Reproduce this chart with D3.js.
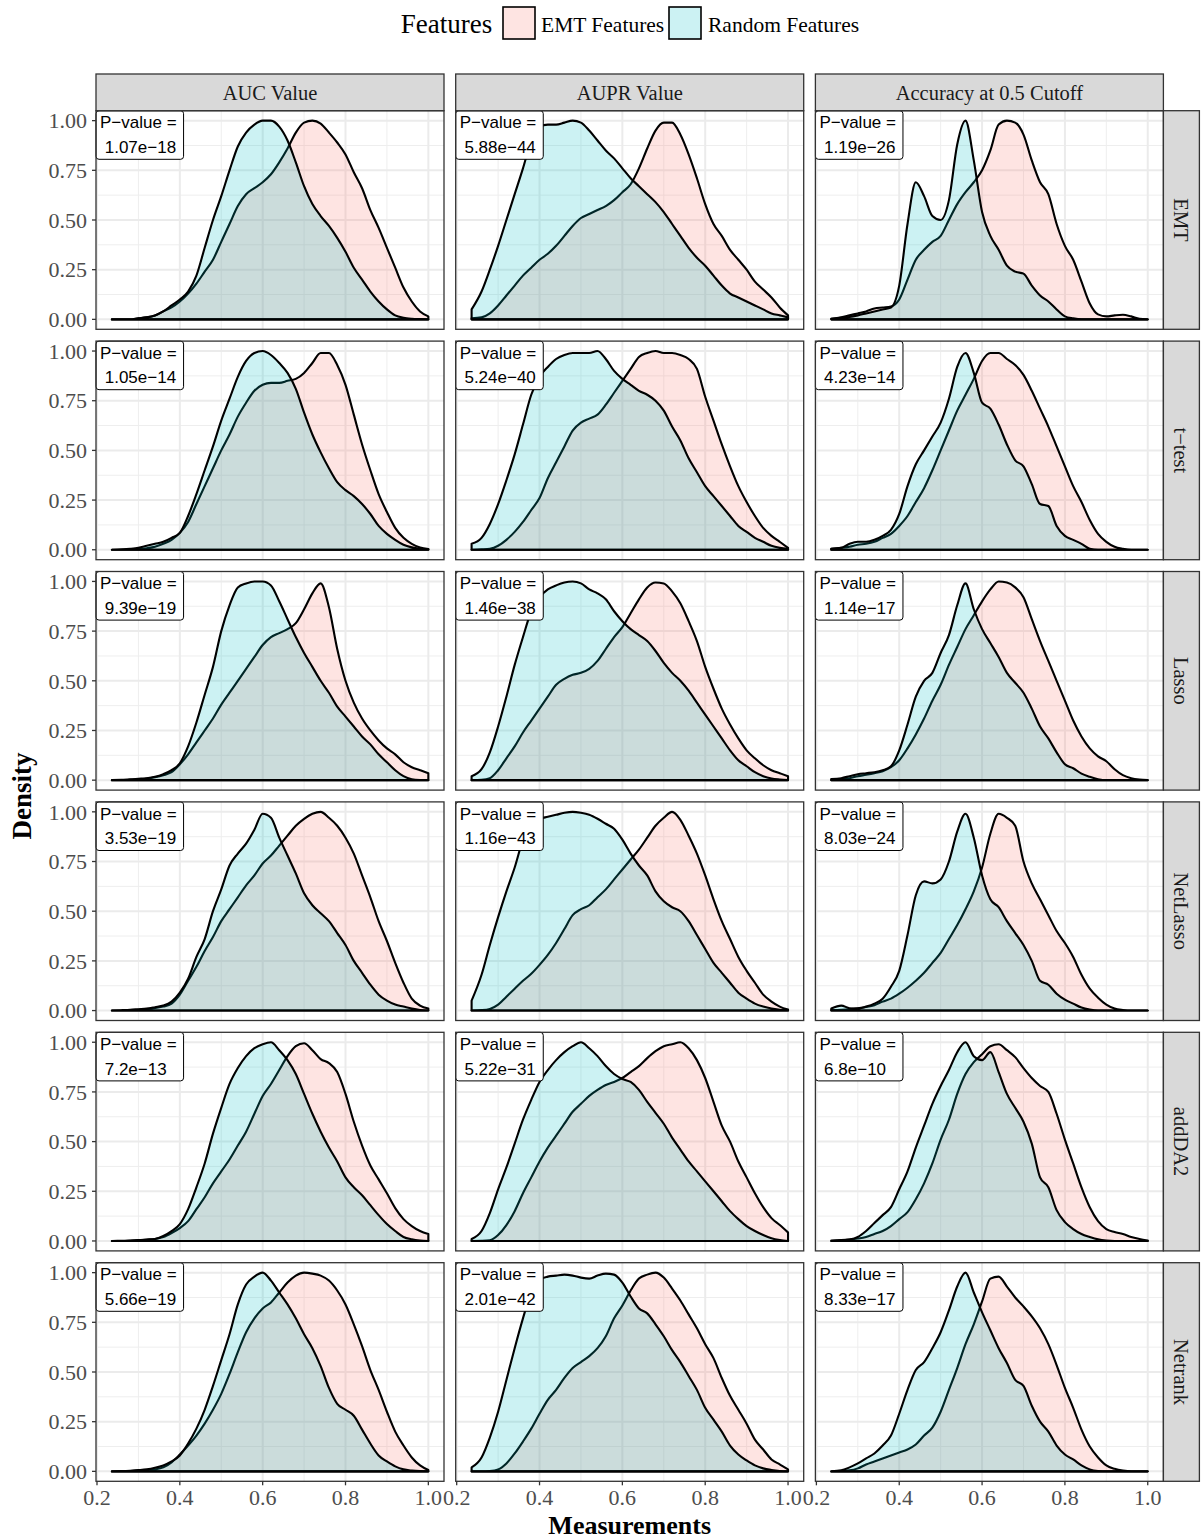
<!DOCTYPE html>
<meta charset="utf-8">
<style>
  body { margin: 0; background: #fff; }
  text { font-family: "Liberation Serif", "Times New Roman", serif; }
  .plabel { font-family: "Liberation Sans", Arial, sans-serif; font-size: 17px; fill: #000; }
</style>
<body>
<div id="chart"></div>
<script src="https://cdn.jsdelivr.net/npm/d3@7"></script>
<script>

// evaluation grid (x) shared by every density curve
var xs = [0.236,0.26,0.28,0.30,0.32,0.34,0.36,0.38,0.40,
          0.42,0.44,0.46,0.48,0.50,0.52,0.54,0.56,0.58,0.60,
          0.62,0.64,0.66,0.68,0.70,0.72,0.74,0.76,0.78,0.80,
          0.82,0.84,0.86,0.88,0.90,0.92,0.94,0.96,0.98,1.00];

var metrics = ["AUC Value", "AUPR Value", "Accuracy at 0.5 Cutoff"];
var methods = ["EMT", "t\u2212test", "Lasso", "NetLasso", "addDA2", "Netrank"];
var groups = ["EMT Features", "Random Features"];
var xTicks = [0.2, 0.4, 0.6, 0.8, 1.0];
var yTicks = [0, 0.25, 0.5, 0.75, 1];

// p-values, rows = methods, columns = metrics
var pvalues = [
  ["1.07e\u221218", "5.88e\u221244", "1.19e\u221226"],
  ["1.05e\u221214", "5.24e\u221240", "4.23e\u221214"],
  ["9.39e\u221219", "1.46e\u221238", "1.14e\u221217"],
  ["3.53e\u221219", "1.16e\u221243", "8.03e\u221224"],
  ["7.2e\u221213",  "5.22e\u221231", "6.8e\u221210"],
  ["5.66e\u221219", "2.01e\u221242", "8.33e\u221217"]
];

// scaled densities, one row per method
var aucEMT = [
  [0,0,0,.005,.01,.02,.04,.06,.09, .13,.18,.24,.30,.39,.48,.57,.63,.66,.69, .73,.79,.86,.94,.99,1.0,.985,.94,.89,.83, .74,.66,.55,.46,.36,.26,.16,.09,.04,.015],
  [0,0,.002,.004,.008,.015,.03,.05,.085, .14,.23,.32,.41,.50,.58,.67,.74,.80,.83, .84,.84,.85,.86,.89,.94,.99,.99,.93,.83, .68,.53,.40,.28,.19,.11,.06,.03,.012,.004],
  [0,0,.002,.004,.008,.015,.025,.04,.08, .13,.19,.25,.31,.38,.44,.50,.56,.62,.68, .72,.74,.76,.79,.86,.94,.99,.87,.66,.50, .39,.31,.25,.20,.16,.13,.09,.065,.05,.035],
  [0,0,.002,.004,.008,.013,.02,.035,.08, .15,.22,.30,.37,.45,.51,.57,.63,.68,.74, .78,.83,.88,.93,.965,.99,1.0,.97,.93,.87, .79,.68,.57,.45,.35,.24,.14,.06,.025,.01],
  [0,0,.001,.003,.006,.01,.02,.04,.065, .10,.16,.22,.29,.35,.41,.48,.55,.64,.73, .79,.86,.93,.98,.995,.96,.915,.895,.85,.74, .60,.48,.38,.31,.24,.165,.11,.075,.05,.035],
  [0,0,.001,.003,.006,.01,.02,.045,.085, .13,.18,.24,.31,.39,.49,.60,.70,.77,.82, .85,.90,.95,.985,1.0,.995,.985,.96,.91,.84, .74,.63,.51,.41,.30,.20,.13,.07,.03,.007]
];
var aucRandom = [
  [0,0,0,.005,.01,.02,.04,.07,.10, .14,.22,.36,.50,.62,.75,.87,.94,.98,1.0, 1.0,.97,.90,.79,.67,.58,.52,.47,.41,.34, .26,.20,.14,.09,.05,.02,.008,.003,.001,0],
  [0,.002,.005,.01,.02,.03,.04,.06,.085, .17,.28,.40,.52,.65,.76,.87,.95,.99,1.0, .98,.94,.89,.81,.69,.58,.49,.41,.34,.30, .27,.23,.18,.12,.08,.05,.025,.012,.005,.002],
  [0,.002,.004,.007,.01,.017,.03,.05,.085, .17,.29,.43,.57,.75,.88,.97,.99,1.0,1.0, .98,.90,.81,.72,.64,.57,.50,.44,.37,.32, .27,.22,.18,.13,.09,.05,.02,.005,.001,0],
  [0,.002,.004,.007,.01,.017,.025,.045,.09, .16,.27,.36,.50,.61,.73,.79,.84,.91,.99, .97,.87,.78,.69,.59,.53,.49,.45,.39,.33, .25,.19,.13,.08,.05,.03,.02,.01,.003,0],
  [0,.001,.002,.004,.007,.01,.025,.05,.085, .16,.27,.39,.54,.67,.79,.87,.93,.97,.99, 1.0,.96,.91,.84,.74,.64,.55,.47,.40,.32, .27,.23,.18,.13,.085,.05,.02,.008,.002,0],
  [0,.001,.003,.006,.01,.018,.03,.05,.08, .14,.215,.31,.43,.56,.69,.84,.94,.98,1.0, .96,.90,.84,.77,.69,.62,.53,.42,.34,.31, .28,.21,.14,.08,.05,.025,.01,.004,.001,0]
];
var auprEMT = [
  [.005,.01,.03,.07,.12,.17,.22,.26,.30, .33,.37,.42,.47,.51,.53,.55,.57,.60,.64, .68,.76,.86,.95,.99,.99,.93,.83,.71,.58, .48,.42,.35,.30,.25,.19,.15,.11,.06,.02],
  [0,.002,.005,.02,.05,.09,.14,.20,.26, .36,.44,.52,.60,.64,.66,.68,.73,.79,.85, .91,.97,.99,1.0,.99,.99,.98,.96,.91,.77, .65,.53,.42,.32,.24,.17,.11,.07,.04,.01],
  [0,.002,.01,.05,.11,.17,.24,.30,.36, .42,.48,.51,.53,.54,.56,.60,.66,.72,.77, .84,.91,.97,.995,.99,.95,.89,.80,.70,.57, .46,.36,.28,.21,.15,.11,.075,.05,.035,.02],
  [0,.002,.008,.03,.07,.11,.15,.185,.23, .28,.34,.41,.48,.51,.53,.57,.61,.66,.71, .76,.81,.87,.93,.97,1.0,.96,.88,.79,.68, .56,.45,.36,.27,.20,.14,.08,.045,.02,.005],
  [0,.001,.004,.03,.08,.15,.24,.32,.40, .47,.53,.59,.65,.69,.73,.76,.785,.80,.82, .85,.88,.92,.955,.98,.99,1.0,.97,.91,.82, .70,.58,.50,.40,.32,.24,.17,.115,.08,.043],
  [0,0,.002,.01,.04,.09,.15,.215,.29, .36,.41,.47,.52,.55,.58,.62,.68,.77,.835, .91,.97,.99,1.0,.975,.92,.86,.79,.72,.64, .57,.47,.38,.31,.24,.16,.11,.06,.035,.01]
];
var auprRandom = [
  [.05,.14,.25,.37,.50,.63,.76,.90,.97, .98,.98,.99,1.0,.99,.95,.90,.85,.81,.76, .71,.67,.63,.59,.54,.48,.42,.36,.31,.27, .22,.17,.13,.11,.09,.07,.05,.03,.02,.01],
  [.03,.06,.13,.23,.35,.48,.63,.78,.87, .92,.96,.98,.99,.99,.99,1.0,.96,.90,.86, .83,.80,.78,.75,.70,.62,.55,.46,.39,.32, .27,.22,.17,.12,.09,.06,.04,.02,.01,.005],
  [.02,.055,.14,.27,.42,.58,.72,.85,.92, .96,.98,.995,1.0,.99,.96,.94,.91,.85,.80, .76,.73,.70,.65,.59,.54,.50,.45,.39,.33, .27,.21,.15,.10,.07,.04,.02,.008,.003,0],
  [.05,.18,.33,.47,.60,.72,.86,.945,.965, .975,.985,.995,1.0,.995,.985,.965,.94,.915,.86, .79,.73,.68,.60,.55,.52,.50,.45,.38,.31, .24,.19,.14,.09,.06,.035,.02,.01,.004,0],
  [.01,.05,.14,.26,.37,.49,.61,.71,.80, .86,.91,.95,.98,1.0,.97,.93,.88,.84,.815, .80,.76,.70,.645,.59,.52,.46,.40,.35,.30, .25,.20,.15,.11,.075,.05,.03,.014,.005,0],
  [.02,.07,.17,.30,.46,.62,.77,.90,.965, .98,.985,.99,.985,.975,.97,.985,.995,.99,.95, .88,.82,.795,.74,.68,.61,.55,.48,.41,.32, .26,.20,.13,.085,.055,.03,.015,.007,.002,0]
];
var accEMT = [
  [.003,.01,.02,.03,.04,.055,.06,.065,.10, .20,.30,.35,.39,.42,.50,.58,.64,.69,.75, .85,.98,1.0,.99,.93,.80,.69,.63,.48,.37, .30,.19,.08,.025,.015,.02,.023,.015,.003,0],
  [.005,.01,.015,.025,.03,.04,.06,.08,.12, .17,.24,.31,.40,.50,.60,.70,.78,.86,.95, .99,.99,.96,.93,.88,.80,.71,.62,.52,.42, .32,.24,.15,.08,.04,.015,.005,0,0,0],
  [.003,.006,.01,.02,.027,.035,.045,.065,.10, .16,.23,.31,.40,.48,.58,.67,.76,.83,.90, .96,1.0,.995,.97,.92,.81,.70,.60,.50,.40, .30,.22,.16,.12,.095,.055,.025,.01,.003,0],
  [.002,.004,.007,.012,.018,.027,.045,.06,.085, .115,.15,.19,.24,.29,.36,.43,.51,.60,.72, .89,.99,.97,.93,.75,.64,.56,.48,.40,.34, .27,.18,.11,.065,.03,.01,.003,0,0,0],
  [.002,.004,.007,.012,.02,.035,.05,.075,.11, .145,.21,.29,.39,.51,.61,.74,.84,.90,.94, .98,.99,.96,.925,.87,.82,.78,.75,.64,.51, .39,.27,.17,.10,.06,.045,.035,.02,.01,.002],
  [0,.002,.005,.015,.035,.05,.065,.08,.095, .11,.135,.18,.22,.30,.41,.52,.64,.74,.855, .97,.98,.93,.875,.83,.78,.72,.64,.535,.42, .32,.21,.125,.07,.03,.013,.004,0,0,0]
];
var accRandom = [
  [.003,.008,.012,.02,.03,.04,.05,.06,.17, .48,.69,.62,.52,.50,.60,.88,1.0,.80,.54, .42,.35,.27,.24,.23,.17,.12,.09,.05,.015, .005,0,0,0,0,0,0,0,0,0],
  [.005,.01,.03,.04,.04,.05,.07,.10,.18, .32,.43,.50,.57,.64,.76,.92,.99,.89,.74, .71,.63,.53,.45,.42,.33,.23,.22,.12,.07, .05,.03,.005,0,0,0,0,0,0,0],
  [.005,.01,.02,.03,.035,.04,.05,.07,.15, .28,.42,.50,.54,.64,.73,.88,.99,.86,.76, .69,.62,.54,.49,.44,.36,.27,.21,.14,.08, .06,.033,.017,.005,0,0,0,0,0,0],
  [.01,.025,.012,.01,.02,.035,.06,.12,.20, .38,.58,.65,.64,.66,.75,.90,.99,.87,.68, .56,.52,.45,.39,.33,.25,.15,.13,.085,.055, .035,.015,.005,0,0,0,0,0,0,0],
  [0,.003,.007,.02,.05,.09,.13,.17,.26, .35,.47,.58,.69,.78,.86,.95,1.0,.93,.91, .95,.85,.74,.67,.60,.49,.32,.27,.155,.095, .06,.035,.02,.008,.002,0,0,0,0,0],
  [0,.005,.02,.04,.065,.09,.13,.18,.29, .41,.51,.55,.62,.70,.81,.93,1.0,.90,.80, .71,.62,.545,.46,.43,.33,.25,.20,.13,.085, .06,.03,.01,.002,0,0,0,0,0,0]
];

var emtByMetric = [aucEMT, auprEMT, accEMT];
var randomByMetric = [aucRandom, auprRandom, accRandom];

var width = 1204, height = 1540;
var panelW = 348, panelH = 218.6, gapX = 11.7, gapY = 11.8;
var left0 = 96, top0 = 110.7;

var fills = { emt: "rgba(248,118,109,0.2)", rnd: "rgba(0,191,196,0.2)" };

var svg = d3.select("#chart").append("svg")
    .attr("width", width)
    .attr("height", height);

var x = d3.scaleLinear().domain([0.1976, 1.0378]).range([0, panelW]);
var y = d3.scaleLinear().domain([-0.05, 1.05]).range([panelH, 0]);

var line = d3.line()
    .x(function(d) { return x(d[0]); })
    .y(function(d) { return y(d[1]); })
    .curve(d3.curveMonotoneX);

function densityPath(vals) {
  var pts = xs.map(function(v, i) { return [v, vals[i]]; });
  return line(pts) +
    "L" + x(xs[xs.length - 1]) + "," + y(0) +
    "L" + x(xs[0]) + "," + y(0) + "Z";
}

methods.forEach(function(method, r) {
  metrics.forEach(function(metric, c) {
    var px = left0 + c * (panelW + gapX),
        py = top0 + r * (panelH + gapY);
    var g = svg.append("g").attr("transform", "translate(" + px + "," + py + ")");

    g.append("rect").attr("width", panelW).attr("height", panelH).attr("fill", "#fff");

    // minor grid
    var xMinor = [0.3, 0.5, 0.7, 0.9], yMinor = [0.125, 0.375, 0.625, 0.875];
    g.selectAll(".vmin").data(xMinor).enter().append("line")
        .attr("x1", x).attr("x2", x).attr("y1", 0).attr("y2", panelH)
        .attr("stroke", "#EEEEEE").attr("stroke-width", 1);
    g.selectAll(".hmin").data(yMinor).enter().append("line")
        .attr("y1", y).attr("y2", y).attr("x1", 0).attr("x2", panelW)
        .attr("stroke", "#EEEEEE").attr("stroke-width", 1);
    // major grid
    g.selectAll(".vmaj").data(xTicks).enter().append("line")
        .attr("x1", x).attr("x2", x).attr("y1", 0).attr("y2", panelH)
        .attr("stroke", "#EBEBEB").attr("stroke-width", 2);
    g.selectAll(".hmaj").data(yTicks).enter().append("line")
        .attr("y1", y).attr("y2", y).attr("x1", 0).attr("x2", panelW)
        .attr("stroke", "#EBEBEB").attr("stroke-width", 2);

    g.append("path").attr("d", densityPath(emtByMetric[c][r]))
        .attr("fill", fills.emt).attr("stroke", "#000").attr("stroke-width", 2.1)
        .attr("stroke-linejoin", "round");
    g.append("path").attr("d", densityPath(randomByMetric[c][r]))
        .attr("fill", fills.rnd).attr("stroke", "#000").attr("stroke-width", 2.1)
        .attr("stroke-linejoin", "round");

    // p-value label
    var lab = g.append("g");
    var box = lab.append("rect").attr("x", 0).attr("y", 0)
        .attr("height", 48.6).attr("rx", 3)
        .attr("fill", "#fff").attr("stroke", "#000").attr("stroke-width", 1);
    var t1 = lab.append("text").attr("class", "plabel").attr("x", 4).attr("y", 17.8).text("P\u2212value =");
    var t2 = lab.append("text").attr("class", "plabel").attr("x", 4).attr("y", 42.4)
        .attr("xml:space", "preserve").style("white-space", "pre").text(" " + pvalues[r][c]);
    var w = Math.max(t1.node().getComputedTextLength(), t2.node().getComputedTextLength());
    box.attr("width", w + 11);

    g.append("rect").attr("width", panelW).attr("height", panelH)
        .attr("fill", "none").attr("stroke", "#333").attr("stroke-width", 1.3);

    // left y axis
    if (c === 0) {
      var ya = g.append("g");
      yTicks.forEach(function(t) {
        ya.append("line").attr("x1", -4).attr("x2", 0).attr("y1", y(t)).attr("y2", y(t))
          .attr("stroke", "#333").attr("stroke-width", 1.3);
        ya.append("text").attr("x", -9).attr("y", y(t)).attr("dy", "0.35em")
          .attr("text-anchor", "end").attr("font-size", 22).attr("fill", "#4D4D4D")
          .text(d3.format(".2f")(t));
      });
    }
    // bottom x axis
    if (r === methods.length - 1) {
      var xa = g.append("g").attr("transform", "translate(0," + panelH + ")");
      xTicks.forEach(function(t) {
        xa.append("line").attr("x1", x(t)).attr("x2", x(t)).attr("y1", 0).attr("y2", 4)
          .attr("stroke", "#333").attr("stroke-width", 1.3);
        xa.append("text").attr("x", x(t)).attr("y", 23.5)
          .attr("text-anchor", "middle").attr("font-size", 22).attr("fill", "#4D4D4D")
          .text(d3.format(".1f")(t));
      });
    }
    // top strips
    if (r === 0) {
      svg.append("rect").attr("x", px).attr("y", 74).attr("width", panelW).attr("height", top0 - 74)
        .attr("fill", "#D9D9D9").attr("stroke", "#333").attr("stroke-width", 1.3);
      svg.append("text").attr("x", px + panelW / 2).attr("y", 92.5).attr("dy", "0.35em")
        .attr("text-anchor", "middle").attr("font-size", 20.5).attr("fill", "#1A1A1A")
        .text(metric);
    }
    // right strips
    if (c === metrics.length - 1) {
      var sx = px + panelW;
      svg.append("rect").attr("x", sx).attr("y", py).attr("width", 36).attr("height", panelH)
        .attr("fill", "#D9D9D9").attr("stroke", "#333").attr("stroke-width", 1.3);
      svg.append("text")
        .attr("transform", "translate(" + (sx + 18) + "," + (py + panelH / 2) + ") rotate(90)")
        .attr("dy", "0.35em").attr("text-anchor", "middle")
        .attr("font-size", 20.5).attr("fill", "#1A1A1A").text(method);
    }
  });
});

// axis titles
var panelsBottom = top0 + methods.length * panelH + (methods.length - 1) * gapY;
var panelsRight = left0 + 3 * panelW + 2 * gapX;
svg.append("text").attr("x", (left0 + panelsRight) / 2).attr("y", 1533.5)
    .attr("text-anchor", "middle").attr("font-size", 26).attr("font-weight", "bold")
    .text("Measurements");
svg.append("text")
    .attr("transform", "translate(31," + ((top0 + panelsBottom) / 2) + ") rotate(-90)")
    .attr("text-anchor", "middle").attr("font-size", 27).attr("font-weight", "bold")
    .text("Density");

// legend
var leg = svg.append("g");
leg.append("text").attr("x", 400.7).attr("y", 33).attr("font-size", 27).text("Features");
var keyX = [503, 669], labX = [541, 708], keyFill = ["#FEE4E2", "#CCF2F3"];
groups.forEach(function(gname, i) {
  leg.append("rect").attr("x", keyX[i]).attr("y", 7).attr("width", 32).attr("height", 32)
    .attr("fill", keyFill[i]).attr("stroke", "#000").attr("stroke-width", 1.6);
  leg.append("text").attr("x", labX[i]).attr("y", 32).attr("font-size", 21.5).text(gname);
});

</script>
</body>
